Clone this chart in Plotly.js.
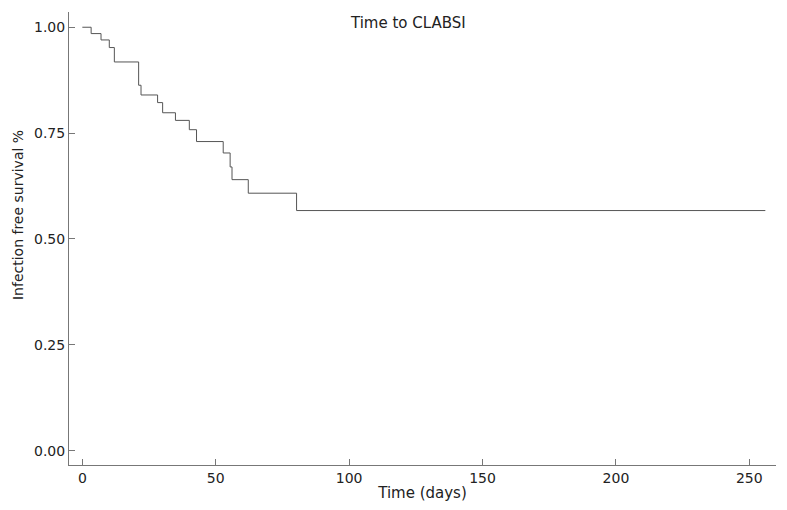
<!DOCTYPE html>
<html>
<head>
<meta charset="utf-8">
<script src="https://cdn.plot.ly/plotly-3.0.1.min.js"></script>
<style>
  html, body { margin: 0; padding: 0; background: #fff; }
  #grafico { width: 787px; height: 510px; }
</style>
</head>
<body>
<div id="grafico"></div>
<script>
// Tiempos de evento (dias) y supervivencia libre de infeccion
const dias = [0, 3.3, 7.0, 10.1, 12.0, 21.1, 22.0, 28.2, 30.1, 34.9, 40.1, 42.8, 52.8, 55.4, 56.1, 62.2, 80.3, 256];
const supervivencia = [1.0, 0.985, 0.970, 0.952, 0.918, 0.863, 0.840, 0.822, 0.798, 0.780, 0.758, 0.730, 0.703, 0.670, 0.640, 0.608, 0.567, 0.567];

const ticksX = [0, 50, 100, 150, 200, 250];
const ticksY = [0, 0.25, 0.5, 0.75, 1];
const etiquetasY = ['0.00', '0.25', '0.50', '0.75', '1.00'];

const trace = {
    x: dias,
    y: supervivencia,
    mode: 'lines',
    type: 'scatter',
    line: { shape: 'hv', color: '#555555', width: 1 },
    hoverinfo: 'x+y'
};

const ejeComun = {
    showgrid: false,
    zeroline: false,
    showline: true,
    linecolor: '#777777',
    linewidth: 1,
    ticks: 'inside',
    ticklen: 6,
    tickwidth: 1,
    tickcolor: '#777777',
    tickfont: { family: 'DejaVu Sans', size: 14, color: '#222222' }
};

const layout = {
    width: 787,
    height: 510,
    margin: { l: 69, r: 11, t: 12, b: 45 },
    paper_bgcolor: '#ffffff',
    plot_bgcolor: '#ffffff',
    showlegend: false,
    font: { family: 'DejaVu Sans', size: 14, color: '#222222' },
    xaxis: Object.assign({}, ejeComun, {
        range: [-5, 260],
        tickvals: ticksX,
        title: { text: 'Time (days)', standoff: 2, font: { family: 'DejaVu Sans', size: 15, color: '#222222' } }
    }),
    yaxis: Object.assign({}, ejeComun, {
        range: [-0.034, 1.036],
        tickvals: ticksY,
        ticktext: etiquetasY
    }),
    annotations: [{
        text: 'Time to CLABSI',
        xref: 'paper', yref: 'paper',
        x: 0.479, y: 0.976,
        xanchor: 'center', yanchor: 'middle',
        showarrow: false,
        font: { family: 'DejaVu Sans', size: 15, color: '#222222' }
    }, {
        // Titulo del eje Y, algo por encima del centro como en el original
        text: 'Infection free survival %',
        xref: 'paper', yref: 'paper',
        x: -0.072, y: 0.552,
        xanchor: 'center', yanchor: 'middle',
        textangle: -90,
        showarrow: false,
        font: { family: 'DejaVu Sans', size: 14, color: '#222222' }
    }]
};

Plotly.newPlot('grafico', [trace], layout, { displayModeBar: false, staticPlot: true });
</script>
</body>
</html>
